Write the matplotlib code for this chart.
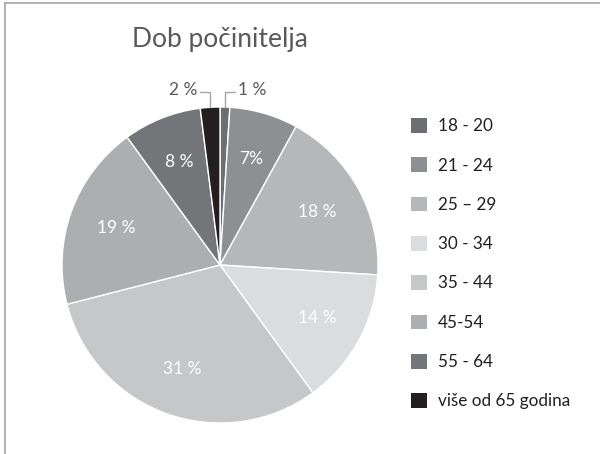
import numpy as np
import matplotlib
matplotlib.use("Agg")
import matplotlib.pyplot as plt
from matplotlib.patches import Patch
from matplotlib.lines import Line2D

categories = ["18 - 20", "21 - 24", "25 – 29", "30 - 34", "35 - 44", "45-54", "55 - 64", "više od 65 godina"]
values = [1, 7, 18, 14, 31, 19, 8, 2]
pct_labels = ["1 %", "7%", "18 %", "14 %", "31 %", "19 %", "8 %", "2 %"]
colors = ["#6d6e71", "#8e8f92", "#b6b7b9", "#dbdcdd", "#c6c7c8", "#adaeb0", "#747578", "#231f20"]
title = "Dob počinitelja"

FONT = "Lato"
W, H = 600, 454
fig = plt.figure(figsize=(W / 100, H / 100), dpi=100)

# frame lines (top and left)
fig.add_artist(Line2D([5 / W, 1], [1 - 3 / H, 1 - 3 / H], color="#a6a6a6", lw=1.2))
fig.add_artist(Line2D([5 / W, 5 / W], [0, 1 - 3 / H], color="#a6a6a6", lw=1.2))

cx, cy, r = 220, H - 265, 158
ax = fig.add_axes([(cx - r) / W, (cy - r) / H, 2 * r / W, 2 * r / H])
wedges, _ = ax.pie(values, colors=colors, startangle=90, counterclock=False,
                   radius=1, wedgeprops=dict(edgecolor="white", linewidth=1.0))
ax.set_xlim(-1, 1)
ax.set_ylim(-1, 1)
ax.set_aspect("equal")
ax.axis("off")

total = sum(values)
cum = np.cumsum([0] + values)
for i, (v, lab) in enumerate(zip(values, pct_labels)):
    mid = 90 - 360 * (cum[i] + v / 2) / total
    th = np.deg2rad(mid)
    if v >= 5:
        d = 0.70
        ax.text(d * np.cos(th), d * np.sin(th), lab, ha="center", va="center",
                color="white", fontsize=12.5, family=FONT)
    else:
        x0, y0 = np.cos(th), np.sin(th)
        ly = 1.095
        side = 1 if x0 > 0 else -1
        x1 = x0 + side * 0.065
        ax.plot([x0, x0, x1], [y0, ly, ly], color="#a6a6a6", lw=1.0, clip_on=False)
        ax.text(x1 + side * 0.015, ly + 0.01, lab, ha="left" if side > 0 else "right",
                va="center", color="#595959", fontsize=12.5, family=FONT)

fig.text(cx / W, 1 - 40 / H, title, ha="center", va="center", color="#595959",
         fontsize=19, family=FONT)

handles = [Patch(facecolor=c, edgecolor="none") for c in colors]
fig.legend(handles, categories, loc="upper left",
           bbox_to_anchor=(411 / W, 1 - 118 / H), frameon=False,
           prop=dict(family=FONT, size=12.3), labelcolor="#231f20",
           handlelength=0.95, handleheight=0.95, handletextpad=0.62,
           labelspacing=1.35, borderpad=0, borderaxespad=0)

fig.savefig("out.png", dpi=100)
